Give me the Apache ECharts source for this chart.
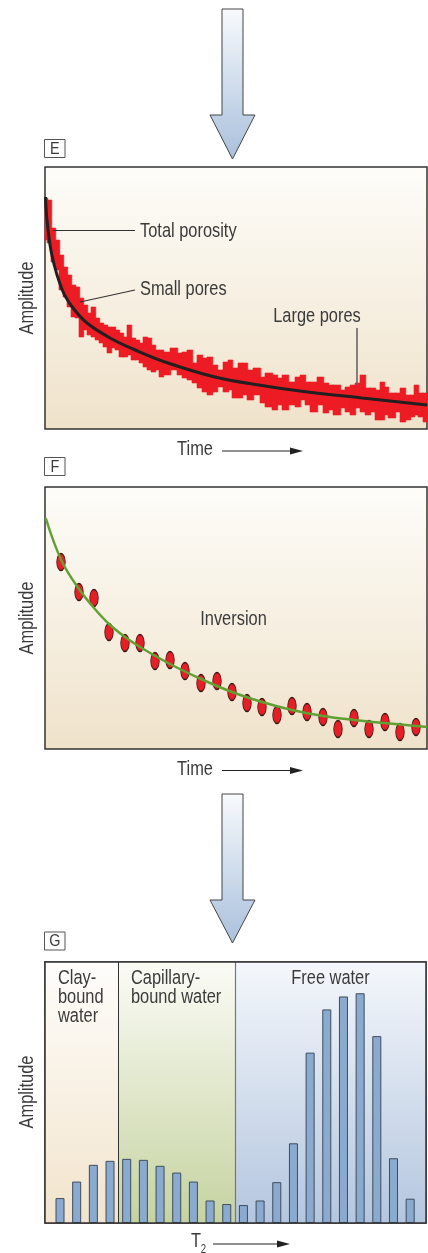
<!DOCTYPE html>
<html>
<head>
<meta charset="utf-8">
<title>NMR echo train to T2 distribution</title>
<script src="https://cdn.jsdelivr.net/npm/echarts@6/dist/echarts.min.js"></script>
<style>
  html, body { margin: 0; padding: 0; background: #fff; }
  #chart { width: 428px; height: 1253px; }
</style>
</head>
<body>
<div id="chart"></div>
<script>
// ---- E: raw echo train (noisy red band), each step: left edge, top, bottom
var echoX   = [0, 1, 3, 5, 7, 9, 11, 13, 15, 17, 19, 21, 23, 25, 27, 29, 31, 33, 35, 37,
               39, 41, 43, 45, 47, 49, 51, 53, 55, 57, 59, 62.5, 66, 68.5, 71, 73.5, 76, 78.5, 81, 83.5,
               86, 89, 91.5, 93.5, 96.5, 98.5, 101, 104, 107.5, 110, 113.5, 116, 118.5, 121.5, 125, 127.5, 130, 132.5, 136, 139,
               141.5, 144, 147.5, 150, 152.5, 155, 157.5, 160, 162.5, 165, 167.5, 169.5, 171.5, 175, 177.5, 180, 182.5, 184.5, 186.5, 189];
var echoTop = [115.5, 114.5, 100.5, 94.5, 87, 81, 77, 72, 71, 65.5, 62, 58, 61, 55.5, 53, 52, 51, 51, 49.5, 48,
               46, 52, 45.5, 44.5, 43, 46, 45.5, 42, 39.5, 39.5, 38.5, 40.5, 38, 38.5, 39.5, 33, 37, 35.5, 36, 32,
               29.5, 33.5, 34.5, 30.5, 33, 33, 29.5, 30.5, 26, 28, 27, 25.5, 27, 23.5, 26, 27, 23.5, 23.5, 26, 23,
               22, 22, 19.5, 21, 22, 23, 27, 20.5, 20.5, 19.5, 23.5, 21, 18, 18, 20.5, 17, 17, 22, 18, 18];
var echoLow = [94.5, 93, 83.5, 79.5, 69.5, 66, 61, 56, 55.5, 46, 49.5, 47, 46, 44.5, 43, 41, 38, 40.5, 39.5, 36,
               36, 37, 34.5, 34.5, 33, 31, 29.5, 28.5, 29.5, 26, 27, 29.5, 27, 25.5, 24.5, 23, 20.5, 18.5, 17, 18.5,
               21, 18.5, 19.5, 15.5, 15.5, 17, 14.5, 17, 13, 11, 9.5, 12, 9.5, 12, 11, 14.5, 12, 8.5, 12, 8,
               9.5, 7, 10.5, 8.5, 7, 10.5, 8.5, 7, 8.5, 4.5, 4.5, 7, 5.5, 8.5, 3.5, 4.5, 6, 7, 6, 3.5];
var echoEnd = 191;

// fitted decay (black)
var fitX = [0.25, 1.15, 3.65, 8.65, 13.65, 21, 33.5, 44, 60, 85, 110, 127.5, 158.5, 191];
var fitY = [116, 103, 86, 69.5, 61, 53, 45, 40, 33.5, 26, 21.5, 19, 15.5, 12];

// ---- F: inversion, measured echoes (red) and model (green)
var invX = [8, 17, 24.5, 32, 40, 47.5, 55, 62.5, 70, 78, 86, 93.5, 101, 108.5, 116, 123.5,
            131, 139, 146.5, 154.5, 162, 170, 177.5, 185.5];
var invY = [93.5, 78.5, 75.5, 58.5, 53, 53, 44, 44.5, 39, 33, 34, 28.5, 23, 21, 17, 21.5,
            18.5, 16, 10, 15.5, 10, 13.5, 8.5, 11];
var modelX = [0.35, 8.35, 17, 24.5, 32, 40, 47.5, 62.5, 78, 93.5, 108.5, 123.5, 139, 154.5, 169.5, 191];
var modelY = [115.5, 94, 80, 70.5, 62.5, 56, 51, 42.5, 35, 28.5, 23.5, 19.5, 16.5, 14.5, 13, 11];

// ---- G: T2 distribution
var t2Bin = [1, 2, 3, 4, 5, 6, 7, 8, 9, 10, 11, 12, 13, 14, 15, 16, 17, 18, 19, 20, 21, 22];
var t2Amp = [12.5, 20.8, 29.2, 31.2, 32.2, 31.7, 28.7, 25.3, 20.8, 11.3, 9.5, 9,
             11.3, 20.5, 40, 85.5, 107.2, 113.7, 115.3, 93.8, 32.5, 12.2];
var zoneNames = ['Clay-\nbound\nwater', 'Capillary-\nbound water', 'Free water'];
var zoneEdges = [0.1, 4.5, 11.5, 22.95];

// condensed look: Liberation Sans squeezed horizontally
var FONT = "'Liberation Sans', Arial, sans-serif";
var FS = 20.5;
var SQ = 0.8;
var TXT = '#3a3a3a';

function fade(top, bottom) {
  return new echarts.graphic.LinearGradient(0, 0, 0, 1, [
    { offset: 0, color: top }, { offset: 1, color: bottom }
  ]);
}
function pairs(xs, ys) {
  return xs.map(function (x, i) { return [x, ys[i]]; });
}

var bandData = echoX.map(function (x, i) {
  var next = i < echoX.length - 1 ? echoX[i + 1] : echoEnd;
  return [x, next, echoLow[i], echoTop[i]];
});

var ellipse = 'path://M1,0A1,1,0,1,1,-1,0A1,1,0,1,1,1,0Z';

function yAx(idx) {
  return {
    gridIndex: idx, type: 'value', min: 0, max: 131,
    axisLine: { show: false }, axisTick: { show: false }, axisLabel: { show: false }, splitLine: { show: false }
  };
}
function xAx(idx, min, max) {
  return {
    gridIndex: idx, type: 'value', min: min, max: max,
    axisLine: { show: false }, axisTick: { show: false }, axisLabel: { show: false }, splitLine: { show: false }
  };
}

function note(text, x, y, align, extra) {
  var t = {
    type: 'text', x: x, y: y, z: 10, scaleX: SQ,
    style: { text: text, fontFamily: FONT, fontSize: FS, fill: TXT, align: align || 'left', verticalAlign: 'middle' }
  };
  if (extra) {
    for (var k in extra) t[k] = extra[k];
  }
  return t;
}
function amp(y) {
  return note('Amplitude', 27, y, 'center', { rotation: Math.PI / 2 });
}
function letterBox(ch, y) {
  return {
    type: 'group', children: [
      { type: 'rect', shape: { x: 44.5, y: y, width: 20.5, height: 18 }, style: { fill: '#fff', stroke: '#555', lineWidth: 1 } },
      { type: 'text', x: 54.8, y: y + 9.5, scaleX: 0.85,
        style: { text: ch, fontFamily: FONT, fontSize: 17, fill: TXT, align: 'center', verticalAlign: 'middle' } }
    ]
  };
}
function axisArrow(y, x0, x1) {
  return {
    type: 'group', children: [
      { type: 'line', shape: { x1: x0, y1: y, x2: x1 - 10, y2: y }, style: { stroke: '#222', lineWidth: 1.2 } },
      { type: 'polygon', shape: { points: [[x1 - 13, y - 3.5], [x1, y], [x1 - 13, y + 3.5]] }, style: { fill: '#222' } }
    ]
  };
}
function bigArrow(top, neck, tip) {
  return {
    type: 'polygon',
    shape: { points: [[222, top], [243, top], [243, neck], [255, neck], [232.5, tip], [210, neck], [222, neck]] },
    style: { fill: fade('#f8fafd', '#a9c0dc'), stroke: '#444', lineWidth: 1 }
  };
}

var beige = fade('#fefdfa', '#efe2ca');

var option = {
  animation: false,
  backgroundColor: '#fff',
  grid: [
    { left: 45, top: 167, width: 382, height: 262, show: true, backgroundColor: beige, borderColor: '#333', borderWidth: 1.5 },
    { left: 45, top: 487, width: 382, height: 262, show: true, backgroundColor: beige, borderColor: '#333', borderWidth: 1.5 },
    { left: 45, top: 962, width: 381, height: 261, show: true, backgroundColor: '#fff', borderColor: '#333', borderWidth: 1.5 }
  ],
  xAxis: [xAx(0, 0, 191), xAx(1, 0, 191), xAx(2, 0.1, 22.95)],
  yAxis: [yAx(0), yAx(1), yAx(2)],
  series: [
    {
      name: 'echo train', type: 'custom', xAxisIndex: 0, yAxisIndex: 0,
      encode: { x: [0, 1], y: [2, 3] },
      data: bandData,
      renderItem: function (params, api) {
        var p1 = api.coord([api.value(0), api.value(3)]);
        var p2 = api.coord([api.value(1), api.value(2)]);
        return {
          type: 'rect',
          shape: { x: p1[0], y: p1[1], width: p2[0] - p1[0] + 0.8, height: p2[1] - p1[1] },
          style: { fill: '#ed1c24', stroke: '#ed1c24', lineWidth: 0.6 }
        };
      }
    },
    {
      name: 'fit', type: 'line', xAxisIndex: 0, yAxisIndex: 0,
      data: pairs(fitX, fitY), smooth: 0.4, showSymbol: false,
      lineStyle: { color: '#231f20', width: 3 },
      markLine: {
        silent: true, symbol: 'none', label: { show: false },
        lineStyle: { color: '#333', width: 1.2, type: 'solid' },
        data: [
          [{ coord: [4, 99.5] }, { coord: [45, 99.5] }],
          [{ coord: [17.5, 63.5] }, { coord: [45, 69.5] }],
          [{ coord: [156, 50.5], lineStyle: { color: '#666', width: 1.6 } }, { coord: [156, 22] }]
        ]
      }
    },
    {
      name: 'model', type: 'line', xAxisIndex: 1, yAxisIndex: 1,
      data: pairs(modelX, modelY), smooth: 0.4, showSymbol: false,
      lineStyle: { color: '#63a033', width: 2.5 }
    },
    {
      name: 'echoes', type: 'scatter', xAxisIndex: 1, yAxisIndex: 1,
      data: pairs(invX, invY), symbol: ellipse, symbolSize: [8.5, 17],
      itemStyle: { color: '#e61e26', borderColor: '#3d1212', borderWidth: 1, opacity: 1 }
    },
    {
      name: 'T2', type: 'bar', xAxisIndex: 2, yAxisIndex: 2,
      data: pairs(t2Bin, t2Amp), barWidth: 9,
      itemStyle: { color: '#8aaad0', borderColor: '#3e4c5c', borderWidth: 1 },
      markArea: {
        silent: true,
        label: { show: false },
        data: [
          [{ xAxis: zoneEdges[0], yAxis: 0, itemStyle: { color: fade('#fefdfb', '#f2e4cc') } },
           { xAxis: zoneEdges[1], yAxis: 131 }],
          [{ xAxis: zoneEdges[1], yAxis: 0, itemStyle: { color: fade('#fbfbf6', '#c5d3a0') } },
           { xAxis: zoneEdges[2], yAxis: 131 }],
          [{ xAxis: zoneEdges[2], yAxis: 0, itemStyle: { color: fade('#f4f7fb', '#b4c6df') } },
           { xAxis: zoneEdges[3], yAxis: 131 }]
        ]
      },
      markLine: {
        silent: true, symbol: 'none', label: { show: false },
        data: [
          { xAxis: zoneEdges[1], lineStyle: { color: '#333', width: 1, type: 'solid' } },
          { xAxis: zoneEdges[2], lineStyle: { color: '#777', width: 1.2, type: 'solid' } }
        ]
      }
    }
  ],
  graphic: [
    bigArrow(9, 115, 159),
    bigArrow(794, 900, 943),
    letterBox('E', 139.5),
    letterBox('F', 457.5),
    letterBox('G', 932),
    amp(298), amp(618), amp(1092),
    note('Total porosity', 140, 231),
    note('Small pores', 140, 289),
    note('Large pores', 317, 316, 'center'),
    note('Inversion', 233.5, 619, 'center'),
    note('Time', 195, 449, 'center'),
    axisArrow(451, 222, 303),
    note('Time', 195, 769, 'center'),
    axisArrow(770.5, 222, 303),
    // zone captions in G
    note(zoneNames[0], 58, 997, 'left', { style: { text: zoneNames[0], fontFamily: FONT, fontSize: FS, fill: TXT, lineHeight: 19, align: 'left', verticalAlign: 'middle' } }),
    note(zoneNames[1], 131, 987.5, 'left', { style: { text: zoneNames[1], fontFamily: FONT, fontSize: FS, fill: TXT, lineHeight: 19, align: 'left', verticalAlign: 'middle' } }),
    note(zoneNames[2], 330.5, 978, 'center'),
    { type: 'rect', shape: { x: 45, y: 962, width: 381, height: 261 }, z: 20,
      style: { fill: null, stroke: '#333', lineWidth: 1.5 } },
    note('T', 196, 1241, 'center'),
    note('2', 203.5, 1250, 'center', { style: { text: '2', fontFamily: FONT, fontSize: 12, fill: TXT, align: 'center', verticalAlign: 'middle' } }),
    axisArrow(1244, 213, 290)
  ]
};

var chart = echarts.init(document.getElementById('chart'));
chart.setOption(option);
window.addEventListener('resize', function () { chart.resize(); });
</script>
</body>
</html>
